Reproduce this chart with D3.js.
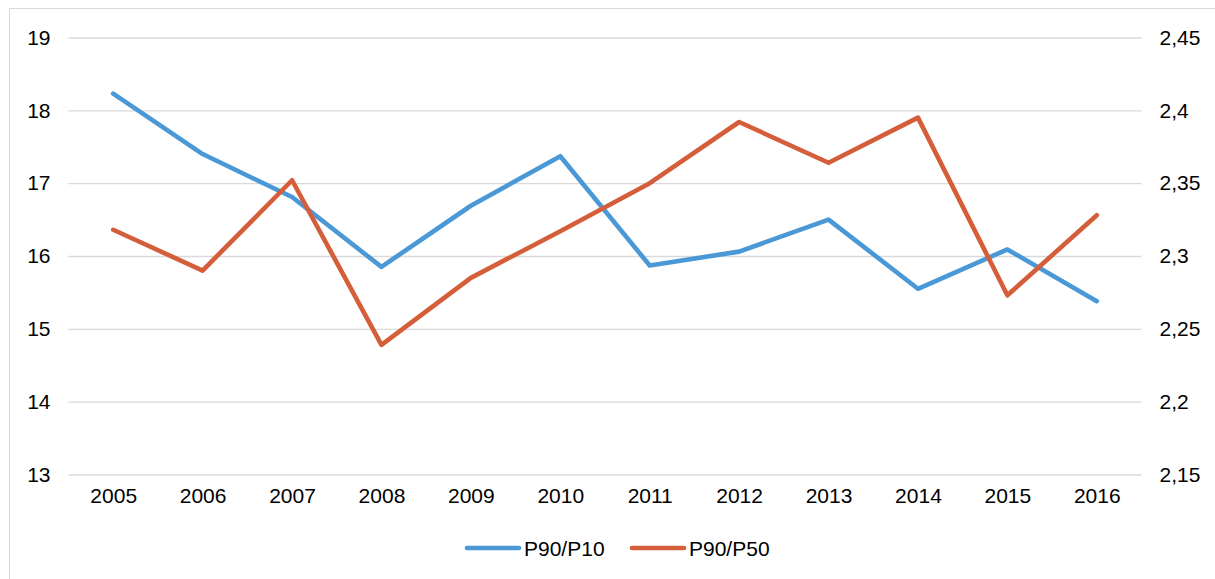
<!DOCTYPE html>
<html>
<head>
<meta charset="utf-8">
<script src="https://cdn.jsdelivr.net/npm/d3@7"></script>
<style>
  html, body { margin: 0; padding: 0; background: #fff; }
  svg { display: block; font-family: "Liberation Sans", Arial, sans-serif; }
</style>
</head>
<body>
<svg id="chart" width="1215" height="579"></svg>
<script>
const years = ["2005","2006","2007","2008","2009","2010","2011","2012","2013","2014","2015","2016"];
const p90p10 = [18.23, 17.40, 16.81, 15.85, 16.69, 17.37, 15.87, 16.06, 16.50, 15.55, 16.09, 15.38];
const p90p50 = [2.318, 2.290, 2.352, 2.239, 2.285, 2.317, 2.350, 2.392, 2.364, 2.395, 2.273, 2.328];
const leftTicks = [13, 14, 15, 16, 17, 18, 19];
const rightTicks = [2.15, 2.2, 2.25, 2.3, 2.35, 2.4, 2.45];
const seriesNames = ["P90/P10", "P90/P50"];
const colors = ["#4A98D6", "#D55E3A"];

const svg = d3.select("#chart");
const W = 1215, H = 579;
const plot = { left: 68.5, right: 1141.5, top: 37.5, bottom: 474.5 };

// outer border
svg.append("rect")
  .attr("x", 9.5).attr("y", 8.5)
  .attr("width", W + 10).attr("height", H + 10)
  .attr("fill", "none").attr("stroke", "#D9D9D9").attr("stroke-width", 1);

const x = d3.scalePoint().domain(years).range([plot.left, plot.right]).padding(0.5);
const yL = d3.scaleLinear().domain([13, 19]).range([plot.bottom, plot.top]);
const yR = d3.scaleLinear().domain([2.15, 2.45]).range([plot.bottom, plot.top]);

// gridlines
const fmtR = v => String(+v.toFixed(2)).replace(".", ",");
svg.append("g")
  .attr("transform", `translate(${plot.left},0)`)
  .call(d3.axisLeft(yL).tickValues(leftTicks).tickSize(-(plot.right - plot.left)).tickFormat(""))
  .call(g => g.select(".domain").remove())
  .call(g => g.selectAll("line").attr("stroke", "#D9D9D9").attr("stroke-width", 1.3));

// left axis labels
svg.append("g")
  .attr("transform", `translate(${plot.left},0)`)
  .call(d3.axisLeft(yL).tickValues(leftTicks).tickSize(0).tickPadding(18).tickFormat(d3.format("d")))
  .call(g => g.select(".domain").remove())
  .call(g => g.selectAll("text").attr("font-size", 21).attr("fill", "#000")
    .attr("font-family", "Liberation Sans, Arial, sans-serif"));

// right axis labels
svg.append("g")
  .attr("transform", `translate(${plot.right},0)`)
  .call(d3.axisRight(yR).tickValues(rightTicks).tickSize(0).tickPadding(18).tickFormat(fmtR))
  .call(g => g.select(".domain").remove())
  .call(g => g.selectAll("text").attr("font-size", 21).attr("fill", "#000")
    .attr("font-family", "Liberation Sans, Arial, sans-serif"));

// x axis labels
svg.append("g")
  .attr("transform", `translate(0,${plot.bottom})`)
  .call(d3.axisBottom(x).tickSize(0).tickPadding(14))
  .call(g => g.select(".domain").remove())
  .call(g => g.selectAll("text").attr("font-size", 21).attr("fill", "#000")
    .attr("font-family", "Liberation Sans, Arial, sans-serif"));

// lines
const lineL = d3.line().x((d, i) => x(years[i])).y(d => yL(d));
const lineR = d3.line().x((d, i) => x(years[i])).y(d => yR(d));

svg.append("path").datum(p90p10)
  .attr("d", lineL).attr("fill", "none")
  .attr("stroke", colors[0]).attr("stroke-width", 4.6)
  .attr("stroke-linejoin", "round").attr("stroke-linecap", "round");

svg.append("path").datum(p90p50)
  .attr("d", lineR).attr("fill", "none")
  .attr("stroke", colors[1]).attr("stroke-width", 4.6)
  .attr("stroke-linejoin", "round").attr("stroke-linecap", "round");

// legend
const legendItems = [
  { name: seriesNames[0], color: colors[0], x1: 467, x2: 519, tx: 524 },
  { name: seriesNames[1], color: colors[1], x1: 632, x2: 684, tx: 689 }
];
const lg = svg.append("g");
legendItems.forEach(it => {
  lg.append("line")
    .attr("x1", it.x1).attr("x2", it.x2).attr("y1", 548).attr("y2", 548)
    .attr("stroke", it.color).attr("stroke-width", 4.6).attr("stroke-linecap", "round");
  lg.append("text")
    .attr("x", it.tx).attr("y", 548).attr("dy", "0.36em")
    .attr("font-size", 21).attr("fill", "#000")
    .text(it.name);
});
</script>
</body>
</html>
